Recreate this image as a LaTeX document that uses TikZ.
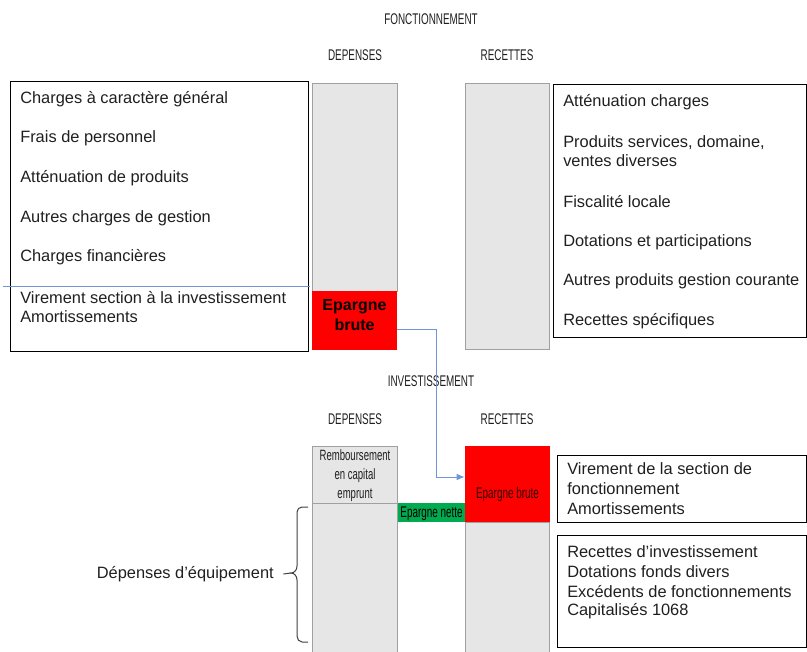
\documentclass[tikz,border=0pt]{standalone}
\usepackage{fontspec}
\setmainfont{Liberation Sans}
\newfontfamily\narrowfont[FakeStretch=0.64]{Liberation Sans}
\usetikzlibrary{fit,arrows.meta}
\definecolor{colgray}{HTML}{E6E6E6}
\definecolor{colborder}{HTML}{A0A0A0}
\definecolor{colred}{HTML}{FF0000}
\definecolor{colgreen}{HTML}{00AA4F}
\definecolor{colblue}{HTML}{7096D8}
\begin{document}
\begin{tikzpicture}[x=0.75pt,y=-0.75pt,
  txt/.style={font=\fontsize{12.3}{14.5}\selectfont, inner sep=0, anchor=west, text=black!88},
  nar/.style={font=\narrowfont\fontsize{11.6}{14}\selectfont, inner sep=0, text=black!88, align=center},
  listbox/.style={draw=black, line width=0.75pt, inner sep=0},
  colbox/.style={draw=colborder, fill=colgray, line width=0.75pt, inner sep=0},
  redbox/.style={fill=colred, inner sep=0},
  greenbox/.style={fill=colgreen, inner sep=0},
  link/.style={draw=colblue, line width=0.75pt},
  bracestyle/.style={draw=black!75, line width=0.75pt}
]
\useasboundingbox (0,0) rectangle (807,651);

% ---------- FONCTIONNEMENT ----------
\node[nar] (titF) at (431,19) {FONCTIONNEMENT};
\node[nar] (depF) at (355,55) {DEPENSES};
\node[nar] (recF) at (507,55) {RECETTES};

% left list box
\node[listbox, fit={(10,81)(308,351)}] (lbox) {};
\node[txt] (l1) at (20,99) {Charges à caractère général};
\node[txt] (l2) at (20,138) {Frais de personnel};
\node[txt] (l3) at (20,178) {Atténuation de produits};
\node[txt] (l4) at (20,218) {Autres charges de gestion};
\node[txt] (l5) at (20,257) {Charges financières};
\node[txt] (l6) at (20,298) {Virement section à la investissement};
\node[txt] (l7) at (20,317) {Amortissements};
\coordinate (bl1) at (3,286);
\coordinate (bl2) at (310,286);
\draw[link] (bl1) -- (bl2);

% depenses column
\node[colbox, fit={(312,83)(397,291)}] (depcol) {};
\node[redbox, fit={(312,291)(397,350)}, font=\bfseries\fontsize{12}{14.5}\selectfont, align=center] (ebf) {Epargne\\brute};

% recettes column
\node[colbox, fit={(465,83)(549,349)}] (reccol) {};

% right list box
\node[listbox, fit={(553,84)(806,337)}] (rbox) {};
\node[txt] (r1) at (563,102) {Atténuation charges};
\node[txt] (r2) at (563,143) {Produits services, domaine,};
\node[txt] (r3) at (563,161) {ventes diverses};
\node[txt] (r4) at (563,202) {Fiscalité locale};
\node[txt] (r5) at (563,242) {Dotations et participations};
\node[txt] (r6) at (563,281) {Autres produits gestion courante};
\node[txt] (r7) at (563,321) {Recettes spécifiques};

% ---------- INVESTISSEMENT ----------
\node[nar] (titI) at (431,381) {INVESTISSEMENT};
\node[nar] (depI) at (355,419) {DEPENSES};
\node[nar] (recI) at (507,419) {RECETTES};

\node[colbox, fit={(312,446)(397,503)}] (remb) {};
\node[nar, font=\narrowfont\fontsize{11.2}{14.2}\selectfont] (rembtxt) at (355,476) {Remboursement\\en capital\\emprunt};
\node[colbox, fit={(312,503)(397,665)}] (equip) {};
\node[greenbox, fit={(398,503)(465,522)}] (enette) {};
\node[nar, text=black] (enettetxt) at (431.5,514) {Epargne nette};
\node[colbox, fit={(465,522)(549,665)}] (recinv) {};
\node[redbox, fit={(465,446)(550,522)}] (ebi) {};
\node[nar, text=black!80!red] (ebitxt) at (507.5,494) {Epargne brute};

\node[listbox, fit={(557,455)(806,522)}] (rbox2) {};
\node[txt] (s1) at (567,469) {Virement de la section de};
\node[txt] (s2) at (567,489) {fonctionnement};
\node[txt] (s3) at (567,509) {Amortissements};

\node[listbox, fit={(557,535)(806,647)}] (rbox3) {};
\node[txt] (t1) at (567,552) {Recettes d’investissement};
\node[txt] (t2) at (567,572) {Dotations fonds divers};
\node[txt] (t3) at (567,592) {Excédents de fonctionnements};
\node[txt] (t4) at (567,611) {Capitalisés 1068};

% connector
\draw[link, -{Latex[length=6pt,width=5pt]}] ([yshift=-7pt]ebf.east) -- ++(39,0) |- ([yshift=5.25pt]ebi.west);

% brace
\node[txt, anchor=east] (depeq) at (274,574) {Dépenses d’équipement};
\coordinate (tip) at (291,573);
\draw[bracestyle] (308,507) -- (302,507) to[out=180,in=90] (297,512) -- (297,566)
  to[out=-90,in=0] (tip) to[out=0,in=90] (297,580) -- (297,636)
  to[out=-90,in=180] (302,642) -- (308,642);
\draw[bracestyle] (tip) -- ([xshift=7pt]depeq.east);
\end{tikzpicture}
\end{document}
